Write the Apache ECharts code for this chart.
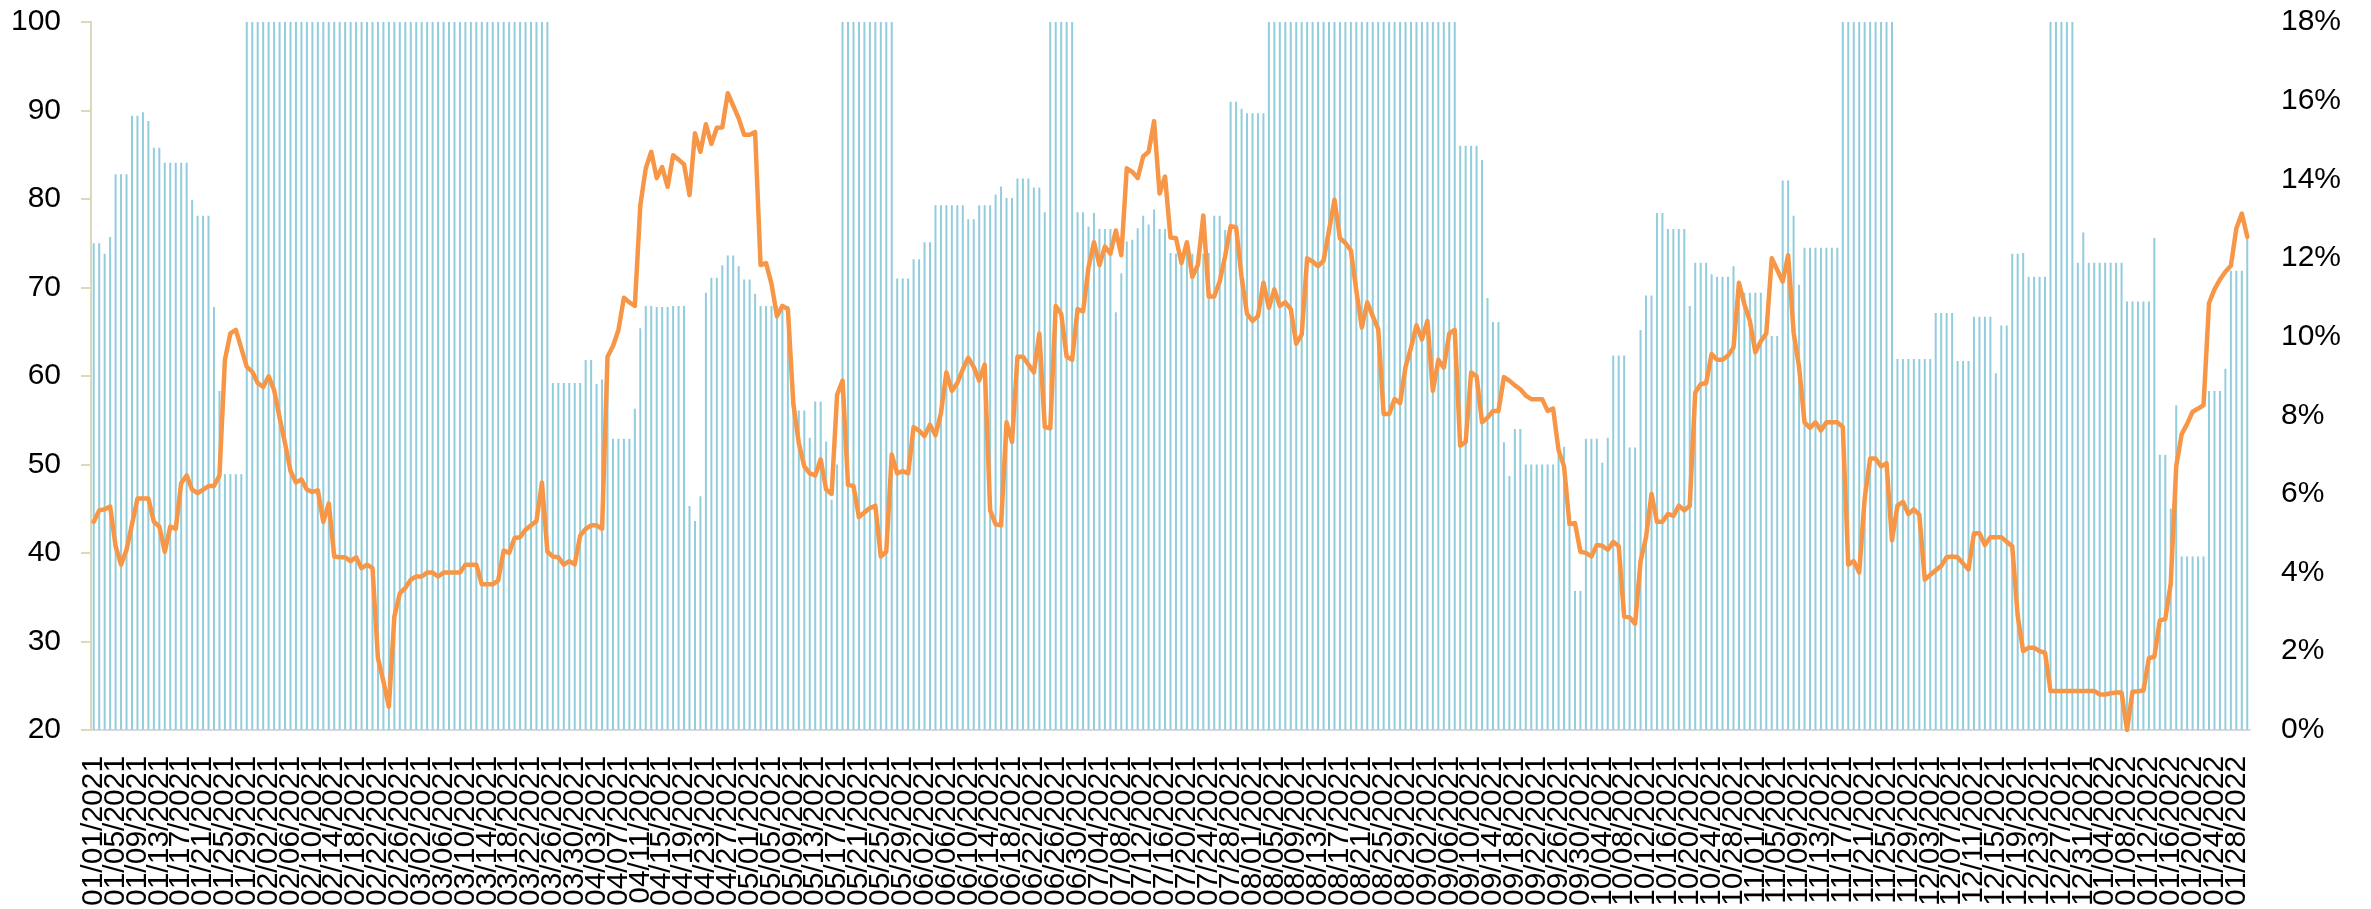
<!DOCTYPE html>
<html>
<head>
<meta charset="utf-8">
<script src="https://cdn.jsdelivr.net/npm/echarts@6/dist/echarts.min.js"></script>
<style>
html,body{margin:0;padding:0;background:#fff;}
#chart{width:2371px;height:909px;}
</style>
</head>
<body>
<div id="chart"></div>
<script>
// Bar series (left axis, 20-100), one value per day from 01/01/2021
const barValues = [
75,75,73.8,75.7,82.8,82.8,82.8,89.4,89.4,89.8,
88.8,85.8,85.8,84.1,84.1,84.1,84.1,84.1,79.9,78.1,
78.1,78.1,67.8,58.3,48.9,48.9,48.9,48.9,100,100,
100,100,100,100,100,100,100,100,100,100,
100,100,100,100,100,100,100,100,100,100,
100,100,100,100,100,100,100,100,100,100,
100,100,100,100,100,100,100,100,100,100,
100,100,100,100,100,100,100,100,100,100,
100,100,100,100,59.2,59.2,59.2,59.2,59.2,59.2,
61.8,61.8,59.1,59.6,59,52.9,52.9,52.9,52.9,56.3,
65.4,67.9,67.9,67.8,67.8,67.8,67.9,67.9,67.9,45.3,
43.6,46.4,69.4,71.1,71.1,72.5,73.6,73.6,72.4,70.9,
70.9,69.3,67.9,67.9,67.9,67.9,67.9,67.9,57,56.1,
56.1,53,57.1,57.1,52.6,46,50,100,100,100,
100,100,100,100,100,100,100,71,71,71,
73.2,73.2,75.1,75.1,79.3,79.3,79.3,79.3,79.3,79.3,
77.7,77.7,79.3,79.3,79.3,80.5,81.4,80.1,80.1,82.3,
82.3,82.3,81.3,81.3,78.5,100,100,100,100,100,
78.5,78.5,76.9,78.4,76.6,76.6,76.6,67.2,71.6,75.2,
75.4,76.7,78.1,77.1,78.8,76.6,76.6,73.9,73.8,73.8,
73.8,73.8,73.8,73.8,73.9,78.1,78.1,76.5,91,91,
90.2,89.7,89.7,89.7,89.7,100,100,100,100,100,
100,100,100,100,100,100,100,100,100,100,
100,100,100,100,100,100,100,100,100,100,
100,100,100,100,100,100,100,100,100,100,
86,86,86,86,84.4,68.8,66.1,66.1,52.5,48.7,
54,54,50,50,50,50,50,50,52,52,
43,35.7,35.7,52.9,52.9,52.9,50.2,53,62.3,62.3,
62.3,51.9,51.9,65.2,69.1,69.1,78.4,78.4,76.6,76.6,
76.6,76.6,67.9,72.8,72.8,72.8,71.5,71.2,71.2,71.2,
72.4,70.5,69.4,69.4,69.4,69.4,64.5,64.5,64.5,82.1,
82.1,78.1,70.3,74.5,74.5,74.5,74.5,74.5,74.5,74.5,
100,100,100,100,100,100,100,100,100,100,
61.9,61.9,61.9,61.9,61.9,61.9,61.9,67.1,67.1,67.1,
67.1,61.7,61.7,61.7,66.7,66.7,66.7,66.7,60.3,65.7,
65.7,73.8,73.8,73.9,71.2,71.2,71.2,71.2,100,100,
100,100,100,72.8,76.2,72.8,72.8,72.8,72.8,72.8,
72.8,72.8,68.4,68.4,68.4,68.4,68.4,75.6,51.1,51.1,
45,56.7,39.6,39.6,39.6,39.6,39.6,58.3,58.3,58.3,
60.8,71.9,71.9,71.9,75.7
];

// Line series (right axis, percent)
const lineValues = [
5.29,5.58,5.61,5.68,4.67,4.20,4.58,5.23,5.88,5.88,
5.88,5.29,5.17,4.53,5.17,5.11,6.27,6.47,6.11,6.02,
6.11,6.20,6.20,6.47,9.41,10.08,10.17,9.70,9.23,9.11,
8.82,8.72,8.99,8.64,7.94,7.29,6.58,6.29,6.37,6.11,
6.05,6.09,5.29,5.76,4.41,4.39,4.39,4.29,4.39,4.11,
4.20,4.11,1.82,1.23,0.59,2.88,3.47,3.61,3.82,3.90,
3.90,4.00,4.00,3.90,4.00,4.00,4.00,4.00,4.20,4.20,
4.20,3.70,3.70,3.70,3.80,4.56,4.50,4.88,4.90,5.09,
5.20,5.31,6.29,4.53,4.41,4.39,4.20,4.29,4.21,4.94,
5.11,5.20,5.20,5.11,9.49,9.76,10.17,10.99,10.87,10.78,
13.34,14.28,14.70,14.03,14.31,13.81,14.61,14.50,14.38,13.60,
15.17,14.70,15.40,14.90,15.31,15.32,16.19,15.87,15.55,15.13,
15.13,15.20,11.82,11.87,11.34,10.52,10.78,10.70,8.29,7.29,
6.70,6.52,6.47,6.88,6.11,6.00,8.52,8.88,6.23,6.20,
5.41,5.53,5.64,5.70,4.41,4.53,7.00,6.52,6.58,6.52,
7.70,7.61,7.47,7.76,7.49,8.05,9.09,8.62,8.82,9.17,
9.46,9.23,8.88,9.29,5.58,5.23,5.20,7.82,7.32,9.49,
9.49,9.29,9.09,10.08,7.70,7.67,10.78,10.58,9.49,9.41,
10.70,10.64,11.76,12.40,11.82,12.29,12.11,12.70,12.07,14.28,
14.19,14.03,14.58,14.70,15.48,13.64,14.07,12.52,12.50,11.87,
12.40,11.52,11.82,13.08,11.02,11.02,11.40,12.05,12.81,12.78,
11.52,10.58,10.40,10.52,11.37,10.73,11.20,10.78,10.87,10.70,
9.82,10.05,11.99,11.91,11.79,11.93,12.70,13.48,12.50,12.38,
12.19,11.17,10.23,10.87,10.52,10.19,8.03,8.03,8.41,8.31,
9.23,9.72,10.29,9.93,10.40,8.62,9.41,9.21,10.08,10.17,
7.23,7.32,9.09,8.99,7.82,7.94,8.11,8.11,8.97,8.88,
8.76,8.66,8.50,8.41,8.41,8.41,8.11,8.17,7.11,6.70,
5.23,5.26,4.53,4.50,4.41,4.70,4.68,4.58,4.78,4.67,
2.88,2.86,2.70,4.29,4.90,6.00,5.29,5.29,5.49,5.44,
5.70,5.58,5.70,8.58,8.79,8.82,9.56,9.41,9.41,9.52,
9.72,11.37,10.82,10.40,9.60,9.88,10.08,11.99,11.70,11.40,
12.07,10.11,9.23,7.82,7.68,7.82,7.61,7.82,7.82,7.82,
7.70,4.20,4.29,4.00,5.88,6.90,6.90,6.70,6.78,4.82,
5.70,5.80,5.49,5.61,5.47,3.82,3.94,4.06,4.17,4.39,
4.41,4.39,4.23,4.08,5.00,5.00,4.70,4.90,4.90,4.90,
4.78,4.67,2.90,2.00,2.09,2.09,2.00,1.96,0.99,0.99,
0.99,0.99,0.99,0.99,0.99,0.99,0.99,0.90,0.90,0.93,
0.95,0.95,0.00,0.97,0.98,1.00,1.82,1.86,2.78,2.82,
3.72,6.70,7.52,7.78,8.09,8.17,8.26,10.85,11.20,11.45,
11.65,11.80,12.75,13.13,12.54
];

// Left axis ticks 20..100 step 10, right axis ticks 0%..18% step 2%
const leftTicks = [20,30,40,50,60,70,80,90,100];
const rightTicks = ['0%','2%','4%','6%','8%','10%','12%','14%','16%','18%'];
// A date label is printed under every 4th day
const labelEvery = 4;

// Categories: consecutive days starting 01/01/2021
const firstDay = Date.UTC(2021, 0, 1);
const categories = [];
for (let i = 0; i < barValues.length; i++) {
  const d = new Date(firstDay + i * 86400000);
  const mm = String(d.getUTCMonth() + 1).padStart(2, '0');
  const dd = String(d.getUTCDate()).padStart(2, '0');
  categories.push(mm + '/' + dd + '/' + d.getUTCFullYear());
}

const FONT = "'Liberation Sans', Arial, sans-serif";
const chart = echarts.init(document.getElementById('chart'), null, {renderer: 'canvas'});
chart.setOption({
  animation: false,
  backgroundColor: '#ffffff',
  grid: {left: 91, right: 121, top: 22, bottom: 179, containLabel: false},
  xAxis: {
    type: 'category',
    data: categories,
    boundaryGap: true,
    axisLine: {show: true, lineStyle: {color: '#D9D9D9', width: 2}},
    axisTick: {show: false},
    axisLabel: {
      interval: 0, rotate: 90, fontSize: 30, color: '#000', margin: 26, fontFamily: FONT,
      hideOverlap: false,
      formatter: function (value, index) { return index % labelEvery === 0 ? value : ''; }
    },
    splitLine: {show: false}
  },
  yAxis: [
    {
      type: 'value', position: 'left',
      min: leftTicks[0], max: leftTicks[leftTicks.length - 1], interval: 10,
      axisLine: {show: true, lineStyle: {color: '#DDD8BC', width: 2}},
      axisTick: {show: true, length: 10, lineStyle: {color: '#DDD8BC', width: 2}},
      axisLabel: {fontSize: 30, color: '#000', margin: 30, fontFamily: FONT},
      splitLine: {show: false}
    },
    {
      type: 'value', position: 'right',
      min: 0, max: 18, interval: 2,
      axisLine: {show: false},
      axisTick: {show: false},
      axisLabel: {fontSize: 30, color: '#000', margin: 31, fontFamily: FONT,
        formatter: function (v) { return rightTicks[Math.round(v / 2)]; }},
      splitLine: {show: false}
    }
  ],
  series: [
    {
      type: 'bar', yAxisIndex: 0, data: barValues,
      barWidth: 2,
      itemStyle: {color: '#92CDDC'},
      z: 1
    },
    {
      type: 'line', yAxisIndex: 1, data: lineValues,
      symbol: 'none', smooth: false,
      lineStyle: {color: '#F79646', width: 4.5, join: 'round', cap: 'round'},
      z: 3
    }
  ]
});
</script>
</body>
</html>
